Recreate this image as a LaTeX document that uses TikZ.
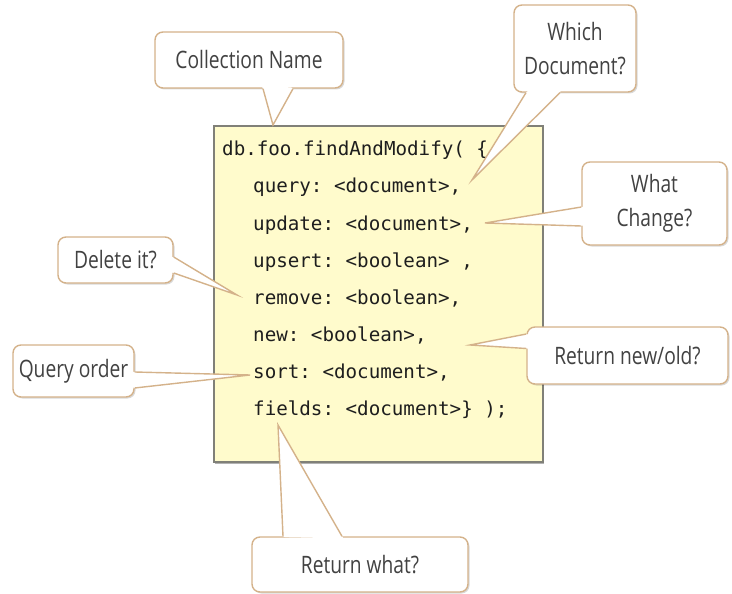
\documentclass[tikz,border=0pt]{standalone}
\usepackage{fontspec}
\setmonofont{DejaVu Sans Mono}
\newfontfamily\notefont[FakeStretch=0.8]{Open Sans}
\usetikzlibrary{calc,shadows}
\definecolor{noteline}{RGB}{212,178,138}
\definecolor{notetext}{RGB}{66,66,66}
\definecolor{panelfill}{RGB}{255,251,204}
\definecolor{panelline}{RGB}{128,128,120}
\definecolor{codetext}{RGB}{30,30,30}
\tikzset{
  note/.style={draw=noteline, line width=1.4pt, fill=white, rounded corners=8pt,
    drop shadow={shadow xshift=1.5pt, shadow yshift=-1.5pt, fill=black, opacity=.15},
    font=\notefont\fontsize{24}{34}\selectfont, text=notetext, align=center, inner sep=0pt},
  panel/.style={draw=panelline, line width=1.5pt, fill=panelfill, inner sep=0pt,
    drop shadow={shadow xshift=1pt, shadow yshift=-1.5pt, fill=black, opacity=.3}},
  codeline/.style={anchor=base west, inner sep=0pt, text=codetext,
    font=\ttfamily\fontsize{19.2}{23}\selectfont},
}
% pointer of a note: node, base a, base b, tip
\newcommand{\notetip}[4]{%
  \coordinate (#1-a) at (#2);
  \coordinate (#1-b) at (#3);
  \fill[white] (#1-a) -- (#4) -- (#1-b) -- ($(#1-b)!2.5pt!(#1.center)$) -- ($(#1-a)!2.5pt!(#1.center)$) -- cycle;
  \draw[noteline, line width=1.4pt, line join=miter] (#1-a) -- (#4) -- (#1-b);
}

\begin{document}
\begin{tikzpicture}[x=1pt,y=-1pt]
  \useasboundingbox (0,0) rectangle (732,594);

  % code panel
  \node[panel, minimum width=329, minimum height=336] (panel) at (378.5,294) {};
  \node[codeline] (hdr) at (222,156) {db.foo.findAndModify( \{};
  \node[codeline] (query) at (253,193) {query: <document>,};
  \node[codeline] (update) at (253,230) {update: <document>,};
  \node[codeline] (upsert) at (253,267) {upsert: <boolean> ,};
  \node[codeline] (remove) at (253,304) {remove: <boolean>,};
  \node[codeline] (new) at (253,341) {new: <boolean>,};
  \node[codeline] (sort) at (253,378) {sort: <document>,};
  \node[codeline] (fields) at (253,415) {fields: <document>\} );};

  % notes
  \node[note, minimum width=188, minimum height=56] (cname) at (249,60) {Collection Name};
  \node[note, minimum width=122, minimum height=87] (whichdoc) at (575,48.5) {Which\\Document?};
  \node[note, minimum width=145, minimum height=83] (whatchg) at (654.5,203.5) {What\\Change?};
  \node[note, minimum width=115, minimum height=46] (delete) at (115.5,260) {Delete it?};
  \node[note, minimum width=121, minimum height=52] (qorder) at (73.5,371) {Query order};
  \node[note, minimum width=201, minimum height=57] (retnew) at (627.5,355.5) {Return new/old?};
  \node[note, minimum width=216, minimum height=55] (retwhat) at (360,564.5) {Return what?};

  % tips
  \coordinate (tip-cname) at (273,125);
  \coordinate (tip-whichdoc) at (472,180);
  \coordinate (tip-whatchg) at (485,223);
  \coordinate (tip-delete) at (237,295);
  \coordinate (tip-qorder) at (250,375);
  \coordinate (tip-retnew) at (470,345);
  \coordinate (tip-retwhat) at (278,425);

  \notetip{cname}{$(cname.south)+(14,0)$}{$(cname.south)+(44,0)$}{tip-cname}
  \notetip{whichdoc}{$(whichdoc.south)+(-49,0)$}{$(whichdoc.south)+(-15,0)$}{tip-whichdoc}
  \notetip{whatchg}{$(whatchg.west)+(0,3.5)$}{$(whatchg.west)+(0,22.5)$}{tip-whatchg}
  \notetip{delete}{$(delete.east)+(0,-3)$}{$(delete.east)+(0,13)$}{tip-delete}
  \notetip{qorder}{$(qorder.east)+(0,1)$}{$(qorder.east)+(0,17)$}{tip-qorder}
  \notetip{retnew}{$(retnew.west)+(0,-21.5)$}{$(retnew.west)+(0,-7)$}{tip-retnew}
  \notetip{retwhat}{$(retwhat.north)+(-77,0)$}{$(retwhat.north)+(-18,0)$}{tip-retwhat}
\end{tikzpicture}
\end{document}
